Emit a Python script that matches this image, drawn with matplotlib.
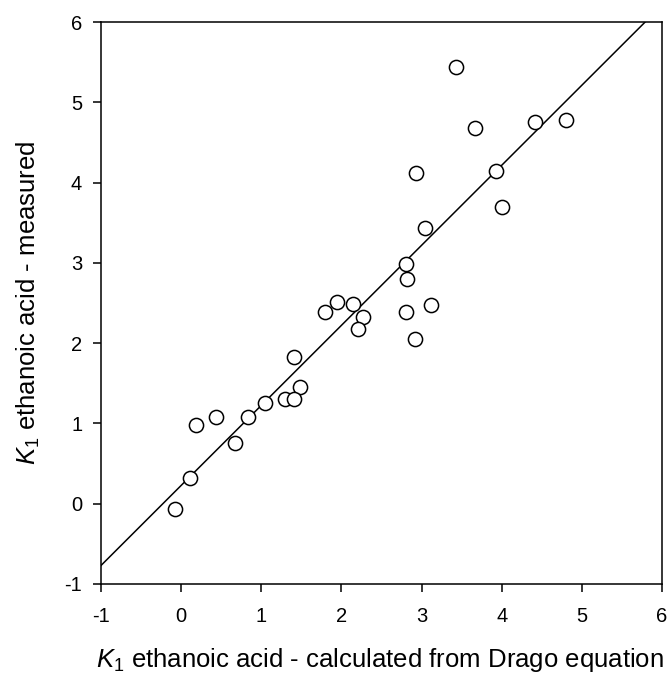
import numpy as np
import matplotlib
matplotlib.use('Agg')
import matplotlib.pyplot as plt

plt.rcParams['font.family'] = ['Liberation Sans', 'DejaVu Sans']
plt.rcParams['mathtext.fontset'] = 'custom'
plt.rcParams['mathtext.rm'] = 'Liberation Sans'
plt.rcParams['mathtext.it'] = 'Liberation Sans:italic'
plt.rcParams['axes.unicode_minus'] = False

# K1 calculated (Drago) vs measured
k_calc = [3.43, 3.67, 4.42, 4.80, 2.93, 3.93, 4.00, 3.04, 2.80, 2.82,
          1.95, 2.15, 1.80, 2.27, 2.21, 2.81, 3.12, 2.92, 1.41, 1.48,
          1.30, 1.41, 1.05, 0.83, 0.43, 0.19, 0.67, 0.11, -0.08]
k_meas = [5.44, 4.68, 4.75, 4.78, 4.12, 4.15, 3.70, 3.43, 2.98, 2.80,
          2.51, 2.49, 2.39, 2.33, 2.18, 2.39, 2.47, 2.05, 1.83, 1.45,
          1.31, 1.30, 1.25, 1.08, 1.08, 0.98, 0.75, 0.32, -0.07]

# fitted line
slope = 0.997
intercept = 0.227

ticks = [-1, 0, 1, 2, 3, 4, 5, 6]

fig = plt.figure(figsize=(6.70, 6.77), dpi=100)
ax = fig.add_axes([0.1507, 0.1374, 0.8373, 0.8301])

xl = np.array([-1, 6])
ax.plot(xl, slope * xl + intercept, color='black', lw=1.1, zorder=2)
ax.plot(k_calc, k_meas, 'o', ms=10.2, mfc='white', mec='black', mew=1.1, zorder=3)

ax.set_xlim(-1, 6)
ax.set_ylim(-1, 6)
ax.set_xticks(ticks)
ax.set_yticks(ticks)
ax.tick_params(direction='out', length=6, width=1.1, labelsize=14.5)
ax.tick_params(axis='x', pad=10.5)
ax.tick_params(axis='y', pad=7.5)
for s in ax.spines.values():
    s.set_linewidth(1.1)

ax.set_xlabel(r'$K_1$ ethanoic acid - calculated from Drago equation', fontsize=18.5, va='baseline')
ax.xaxis.set_label_coords(0.497, -0.1477)
ax.set_ylabel(r'$K_1$ ethanoic acid - measured', fontsize=18.5, va='baseline')
ax.yaxis.set_label_coords(-0.1159, 0.5)

fig.savefig('out.png', dpi=100)
